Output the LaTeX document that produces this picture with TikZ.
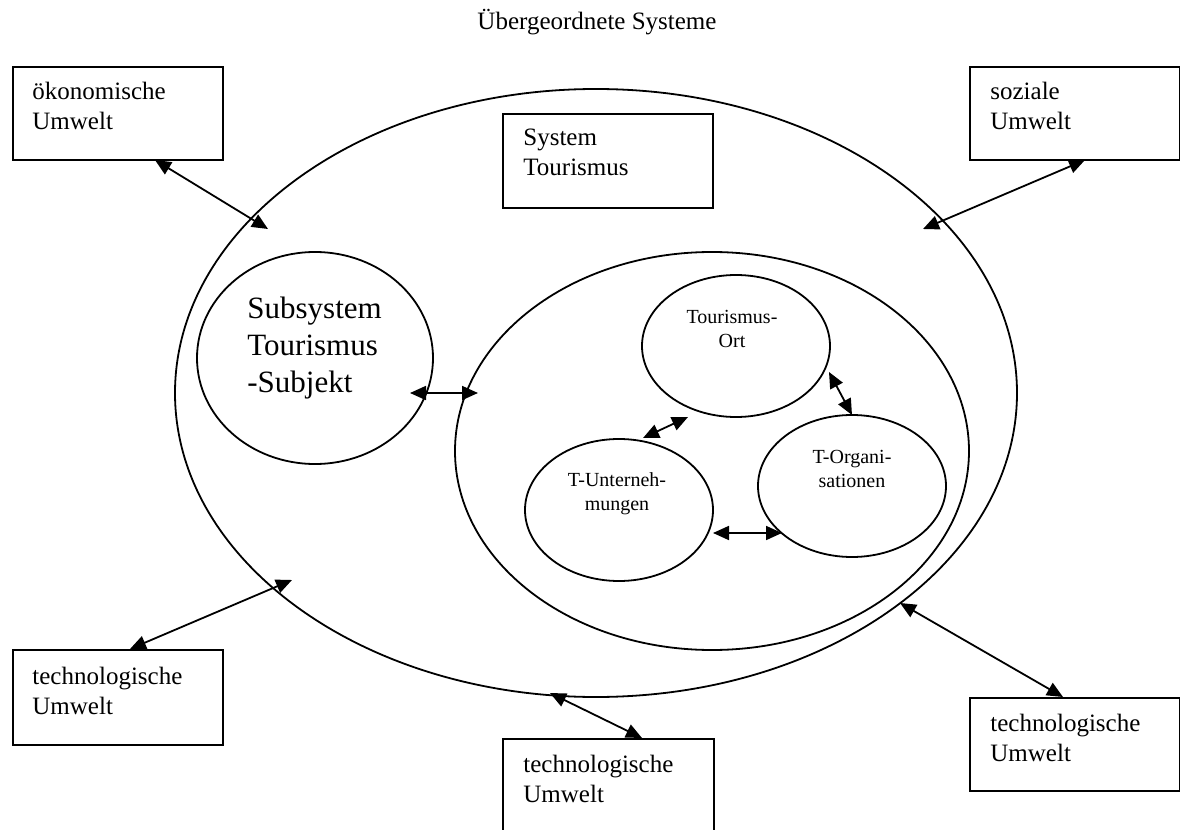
\documentclass[tikz,border=0pt]{standalone}
\usepackage{fontspec}
\setmainfont{Liberation Serif}
\usetikzlibrary{arrows.meta,shapes.geometric}
\begin{document}
\begin{tikzpicture}[x=0.5pt,y=-0.5pt,
  box/.style={draw, line width=1pt, inner sep=0pt, anchor=north west, minimum width=105pt},
  ell/.style={draw, ellipse, line width=0.9pt, inner sep=0pt},
  small/.style={ell, minimum width=94pt, minimum height=71pt},
  lbl/.style={anchor=base west, inner sep=0pt, text width=100pt, align=left, font=\fontsize{12.5}{15}\selectfont},
  clbl/.style={anchor=base, inner sep=0pt, text width=60pt, align=center, font=\fontsize{10}{12}\selectfont},
  link/.style={line width=0.9pt, {Triangle[length=8pt,width=7pt]}-{Triangle[length=8pt,width=7pt]}}]
\useasboundingbox (0,0) rectangle (1180,830);
% title
\node[anchor=base, inner sep=0pt, font=\fontsize{12.5}{15}\selectfont] (title) at (597,29) {Übergeordnete Systeme};
% ellipses
\node[ell, minimum width=421pt, minimum height=304pt] (big) at (596,393) {};
\node[ell, minimum width=118pt, minimum height=106pt] (sub) at (315,358) {};
\node[ell, minimum width=257pt, minimum height=199pt] (inner) at (712,451) {};
\node[small] (ort) at (736,346) {};
\node[small] (org) at (852,486) {};
\node[small] (unt) at (619,510) {};
% boxes
\node[box, minimum height=46.5pt] (oek) at (12,66) {};
\node[box, minimum height=46.5pt] (soz) at (969,66) {};
\node[box, minimum height=47pt] (sys) at (502,113) {};
\node[box, minimum height=47.5pt] (tl) at (12,649) {};
\node[box, minimum height=52pt, minimum width=105.5pt] (tb) at (502,738) {};
\node[box, minimum height=46.5pt] (tr) at (969,697) {};
% texts
\node[lbl] (oekt) at (32,99) {ökonomische\\Umwelt};
\node[lbl] (sozt) at (990,99) {soziale\\Umwelt};
\node[lbl] (syst) at (523,145) {System\\Tourismus};
\node[lbl] (tlt) at (32,684) {technologische\\Umwelt};
\node[lbl] (tbt) at (523,772) {technologische\\Umwelt};
\node[lbl] (trt) at (990,731) {technologische\\Umwelt};
\node[anchor=base west, inner sep=0pt, text width=120pt, align=left, font=\fontsize{15.5}{18.5}\selectfont] (subt) at (247,318) {Subsystem\\Tourismus\\-Subjekt};
\node[clbl] (ortt) at (732,323) {Tourismus-\\Ort};
\node[clbl] (orgt) at (852,463) {T-Organi-\\sationen};
\node[clbl] (untt) at (617,486) {T-Unterneh-\\mungen};
% connector end points
\coordinate (a1s) at (155,160); \coordinate (a1e) at (268,229);
\coordinate (a2s) at (1085,160); \coordinate (a2e) at (923,229);
\coordinate (a3s) at (410,393); \coordinate (a3e) at (478,393);
\coordinate (a4s) at (829,372); \coordinate (a4e) at (852,415);
\coordinate (a5s) at (643,438); \coordinate (a5e) at (688,417);
\coordinate (a6s) at (713,533); \coordinate (a6e) at (782,533);
\coordinate (a7s) at (130,649); \coordinate (a7e) at (292,580);
\coordinate (a8s) at (550,693); \coordinate (a8e) at (642,738);
\coordinate (a9s) at (900,603); \coordinate (a9e) at (1063,697);
\foreach \i in {1,...,9} {\draw[link] (a\i s) -- (a\i e);}
\end{tikzpicture}
\end{document}
